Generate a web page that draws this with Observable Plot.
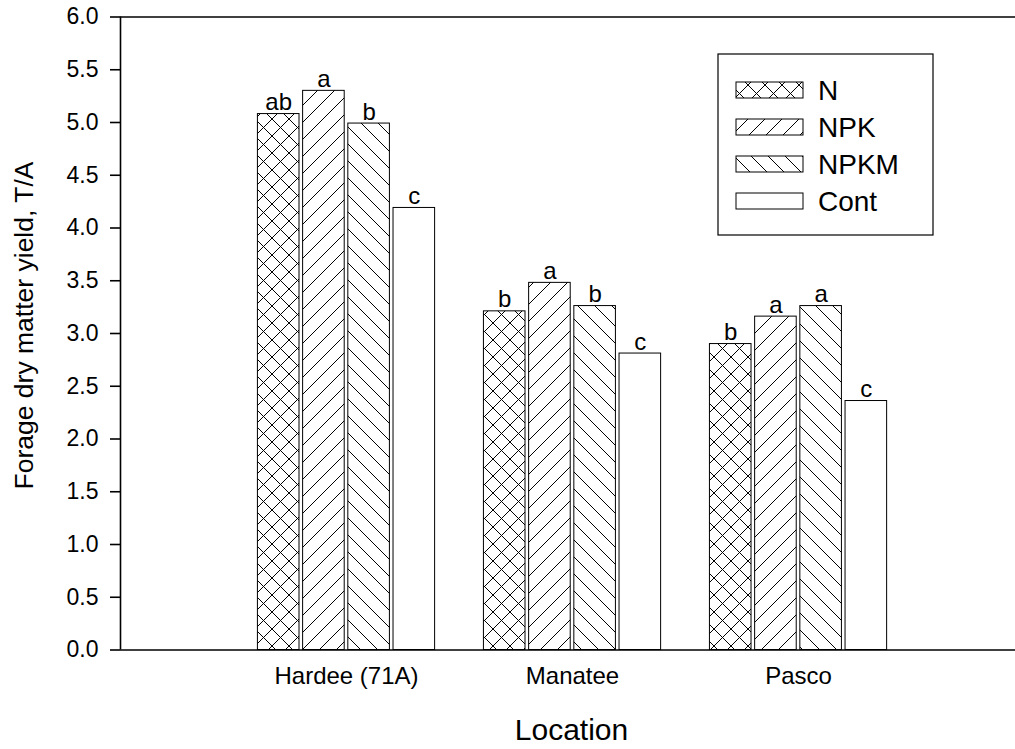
<!DOCTYPE html>
<html><head><meta charset="utf-8">
<script src="https://cdn.jsdelivr.net/npm/d3@7"></script>
<script src="https://cdn.jsdelivr.net/npm/@observablehq/plot@0.6"></script>
<style>html,body{margin:0;padding:0;background:#fff;overflow:hidden;}</style>
</head><body><div id="chart"></div>
<script>
const locations = ["Hardee (71A)", "Manatee", "Pasco"];
const treatments = ["N", "NPK", "NPKM", "Cont"];
const yieldN = [5.08, 3.21, 2.90];
const yieldNPK = [5.30, 3.48, 3.16];
const yieldNPKM = [4.99, 3.26, 3.26];
const yieldCont = [4.19, 2.81, 2.36];
const lettersN = ["ab", "b", "b"];
const lettersNPK = ["a", "a", "a"];
const lettersNPKM = ["b", "b", "a"];
const lettersCont = ["c", "c", "c"];
const yTicks = [0, 0.5, 1.0, 1.5, 2.0, 2.5, 3.0, 3.5, 4.0, 4.5, 5.0, 5.5, 6.0];
const yTitle = "Forage dry matter yield, T/A";
const xTitle = "Location";

const seriesValues = [yieldN, yieldNPK, yieldNPKM, yieldCont];
const seriesLetters = [lettersN, lettersNPK, lettersNPKM, lettersCont];
const rows = [];
treatments.forEach((t, k) => {
  locations.forEach((loc, i) => {
    rows.push({treatment: t, k, loc: i, location: loc, value: seriesValues[k][i], letter: seriesLetters[k][i]});
  });
});

const step = 0.2, half = 0.092;
const center = d => d.loc + (d.k - 1.5) * step;
const fills = ["url(#patN)", "url(#patNPK)", "url(#patNPKM)", "white"];
const font = "'Liberation Sans', Arial, Helvetica, sans-serif";

const svg = Plot.plot({
  width: 1015, height: 749,
  marginLeft: 120, marginRight: 0, marginTop: 16.5, marginBottom: 99.5,
  style: {fontFamily: font, fontSize: "23px", color: "black", background: "white"},
  x: {domain: [-1, 2.96]},
  y: {domain: [0, 6]},
  color: {domain: treatments, range: fills},
  marks: [
    Plot.rectY(rows, {x1: d => center(d) - half, x2: d => center(d) + half, y1: 0, y2: "value",
      fill: "treatment", stroke: "black", strokeWidth: 1}),
    Plot.text(rows, {x: center, y: "value", text: "letter", lineAnchor: "bottom", dy: -4, fontSize: 24, fill: "black"}),
    Plot.ruleY([0, 6], {stroke: "black", strokeWidth: 1.6}),
    Plot.ruleX([-1], {stroke: "black", strokeWidth: 1.6}),
    Plot.axisY({ticks: yTicks, tickFormat: d3.format(".1f"), tickSize: 10, tickPadding: 12,
      label: null, fontSize: 23, strokeWidth: 1.6}),
    Plot.axisX({ticks: [0, 1, 2], tickFormat: i => locations[i], tickSize: 0, tickPadding: 17,
      label: null, fontSize: 24}),
    Plot.text([xTitle], {frameAnchor: "bottom", dy: 80, dx: 3.5, lineAnchor: "middle", fontSize: 30, fill: "black"}),
    Plot.text([yTitle], {frameAnchor: "left", dx: -95.5, dy: -8, rotate: -90, textAnchor: "middle", lineAnchor: "middle", fontSize: 26.5, fill: "black"})
  ]
});

const s = d3.select(svg);
const defs = s.insert("defs", ":first-child");
const P = 17;
function pat(id, d) {
  defs.append("pattern").attr("id", id).attr("patternUnits", "userSpaceOnUse")
    .attr("width", P).attr("height", P)
    .append("path").attr("d", d).attr("stroke", "black").attr("stroke-width", 1).attr("fill", "none");
}
const fwd = `M-2,2 L2,-2 M0,${P} L${P},0 M${P-2},${P+2} L${P+2},${P-2}`;
const back = `M-2,${P-2} L2,${P+2} M0,0 L${P},${P} M${P-2},-2 L${P+2},2`;
pat("patN", fwd + " " + back);
pat("patNPK", fwd);
pat("patNPKM", back);

// legend
const lg = s.append("g").attr("text-anchor", "start");
lg.append("rect").attr("x", 718).attr("y", 54).attr("width", 215).attr("height", 181)
  .attr("fill", "white").attr("stroke", "black").attr("stroke-width", 1.2);
const legendY = [82, 119, 156, 193];
treatments.forEach((t, k) => {
  lg.append("rect").attr("x", 736).attr("y", legendY[k]).attr("width", 67).attr("height", 16)
    .attr("fill", fills[k]).attr("stroke", "black").attr("stroke-width", 1);
  lg.append("text").attr("x", 818).attr("y", legendY[k] + 8).attr("dy", "0.36em")
    .attr("text-anchor", "start")
    .attr("font-size", 28).attr("font-family", font).attr("fill", "black").text(t);
});

document.getElementById("chart").appendChild(svg);
</script></body></html>
